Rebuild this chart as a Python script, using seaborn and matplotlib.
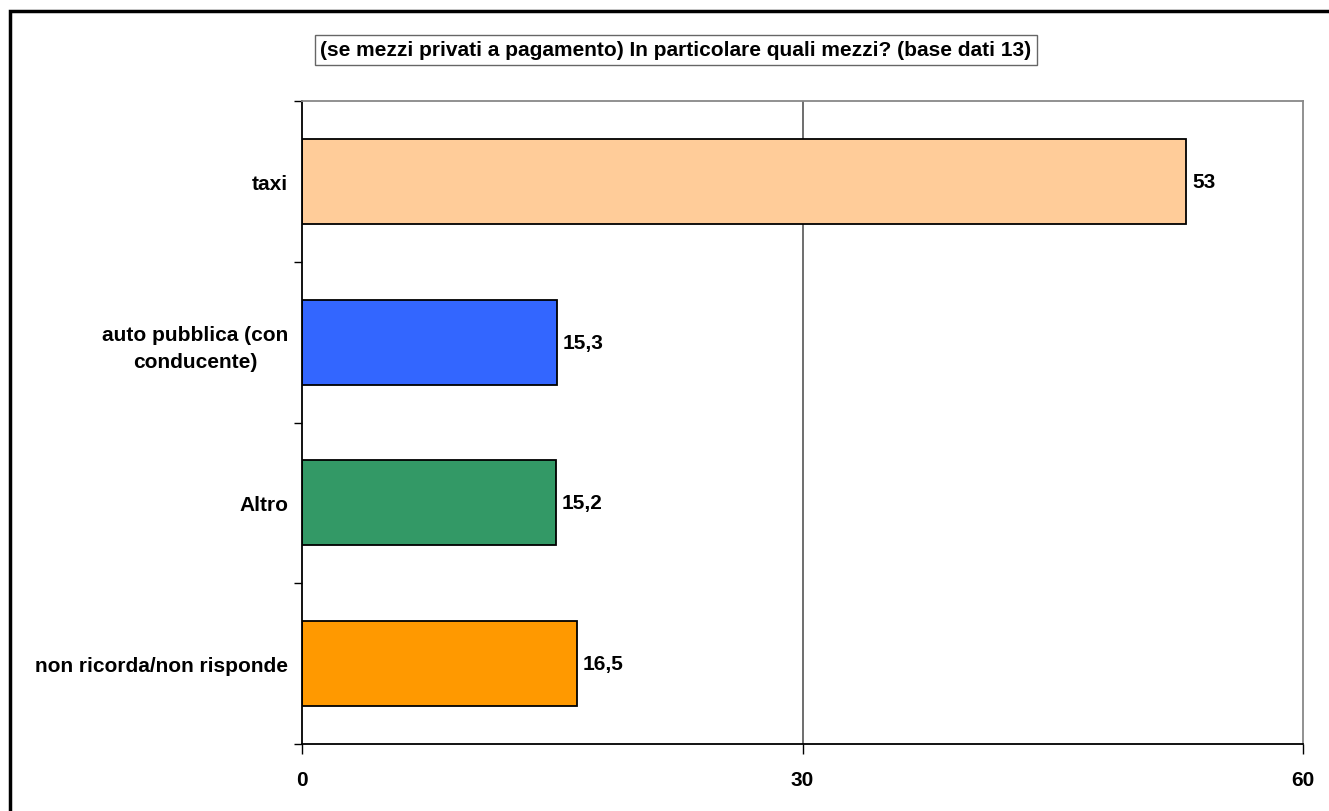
import matplotlib
matplotlib.use("Agg")
import matplotlib.pyplot as plt
import seaborn as sns
import pandas as pd
from matplotlib.patches import Rectangle

categories = ["taxi", "auto pubblica (con\nconducente)", "Altro", "non ricorda/non risponde"]
values = [53, 15.3, 15.2, 16.5]
value_labels = ["53", "15,3", "15,2", "16,5"]
colors = ["#FFCC99", "#3366FF", "#339966", "#FF9900"]
xticks = [0, 30, 60]
title = "(se mezzi privati a pagamento) In particolare quali mezzi? (base dati 13)"

sns.set_theme(style="white")
plt.rcParams['font.family'] = ['Liberation Sans', 'DejaVu Sans']
plt.rcParams['text.color'] = 'black'
plt.rcParams['xtick.color'] = 'black'
plt.rcParams['ytick.color'] = 'black'

FS = 15

fig = plt.figure(figsize=(13.29, 8.12), dpi=100)
ax = fig.add_axes([302/1329, 1-745/812, (1303-302)/1329, (745-102)/812])

df = pd.DataFrame({"cat": categories, "val": values})
sns.barplot(data=df, y="cat", x="val", hue="cat", palette=colors, legend=False,
            orient="h", width=0.53, edgecolor="black", linewidth=1.3, ax=ax, saturation=1)

ax.set_xlim(0, 60)
ax.set_ylim(3.5, -0.5)
ax.set_xticks(xticks)
ax.set_xticklabels([str(t) for t in xticks], fontsize=FS, fontweight="bold", color="black")
ax.set_xlabel("")
ax.set_ylabel("")
ax.set_yticks([i for i in range(len(categories))])
ax.set_yticklabels(categories, fontsize=FS, fontweight="bold", multialignment="center",
                   linespacing=1.55, color="black")
ax.tick_params(axis="y", length=0, pad=10)

# category boundary ticks on left axis
ax.set_yticks([i - 0.5 for i in range(len(categories) + 1)], minor=True)
ax.tick_params(axis="y", which="minor", length=6, width=1, color="black", left=True)
# bottom ticks
ax.tick_params(axis="x", which="major", length=7, width=1, color="black", bottom=True, direction="out", pad=12)

for sp in ["left", "bottom"]:
    ax.spines[sp].set_color("black")
    ax.spines[sp].set_linewidth(1.3)
for sp in ["top", "right"]:
    ax.spines[sp].set_color("#888888")
    ax.spines[sp].set_linewidth(1.3)
    ax.spines[sp].set_visible(True)

ax.axvline(30, color="#555555", linewidth=1.2, zorder=0)

for i, (v, lab) in enumerate(zip(values, value_labels)):
    ax.text(v + 0.35, i, lab, va="center", ha="left", fontsize=FS, fontweight="bold", color="black")

# title box
fig.text((316 + 1036) / 2 / 1329, 1 - 51/812, title, ha="center", va="center",
         fontsize=FS, fontweight="bold", color="black",
         bbox=dict(boxstyle="square,pad=0.25", facecolor="white", edgecolor="#666666", linewidth=1.0))

# outer frame
fig.patches.append(Rectangle((10/1329, -0.1), 1.2, 1 - 12/812 + 0.1, transform=fig.transFigure,
                             fill=False, edgecolor="black", linewidth=2.5))

fig.savefig("out.png", dpi=100)
